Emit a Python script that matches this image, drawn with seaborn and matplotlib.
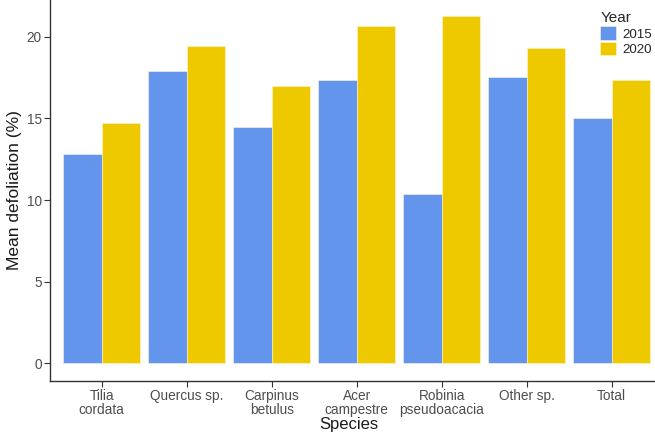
import pandas as pd
import numpy as np
import matplotlib
matplotlib.use("Agg")
import matplotlib.pyplot as plt
import seaborn as sns

species = ["Tilia\ncordata", "Quercus sp.", "Carpinus\nbetulus", "Acer\ncampestre",
           "Robinia\npseudoacacia", "Other sp.", "Total"]
defol_2015 = [12.82, 17.88, 14.49, 17.35, 10.35, 17.53, 15.04]
defol_2020 = [14.72, 19.45, 16.96, 20.67, 21.27, 19.29, 17.35]
years = ["2015", "2020"]
y_ticks = [0, 5, 10, 15, 20]

df = pd.DataFrame({
    "Species": species * 2,
    "Year": [years[0]] * len(species) + [years[1]] * len(species),
    "Defoliation": defol_2015 + defol_2020,
})

sns.set_style("white")
plt.rcParams["font.family"] = ["Liberation Sans", "DejaVu Sans"]

fig = plt.figure(figsize=(6.55, 4.32), dpi=100)
# panel runs past the top and right edge, like the cropped original
ax = fig.add_axes([50 / 655, 51 / 432, (662.7 - 50) / 655, 381 / 432])

sns.barplot(data=df, x="Species", y="Defoliation", hue="Year", order=species,
            hue_order=years, palette=["#6495ED", "#EEC900"], width=0.9,
            saturation=1, edgecolor="#fdf6d8", linewidth=0.4, ax=ax)

ax.set_xlim(-0.608, 6.6)
ax.set_ylim(-1.08, 22.25)
ax.set_yticks(y_ticks)
ax.set_yticklabels([str(v) for v in y_ticks])

for s in ["top", "right"]:
    ax.spines[s].set_visible(False)
for s in ["left", "bottom"]:
    ax.spines[s].set_color("#333333")
    ax.spines[s].set_linewidth(1.0)

ax.tick_params(axis="both", which="both", length=4, width=0.8, color="#333333",
               labelsize=9.8, labelcolor="#4D4D4D", pad=2, left=True, bottom=True)
for lbl in ax.get_xticklabels():
    lbl.set_linespacing(0.95)

ax.set_xlabel("Species", fontsize=12, color="#1a1a1a")
ax.xaxis.set_label_coords((349 - 50) / (662.7 - 50), (15 - 51) / 381)
ax.set_ylabel("Mean defoliation (%)", fontsize=12.5, color="#1a1a1a", labelpad=3)

handles, labels = ax.get_legend_handles_labels()
ax.legend(handles, labels, title="Year", loc="upper left",
          bbox_to_anchor=(595 / 655, 1 - 6 / 432), bbox_transform=fig.transFigure,
          frameon=False, fontsize=9.6, title_fontsize=11, handlelength=1.15,
          handleheight=1.15, labelspacing=0.08, handletextpad=0.5,
          alignment="left", borderaxespad=0)

fig.savefig("out.png", dpi=100)
